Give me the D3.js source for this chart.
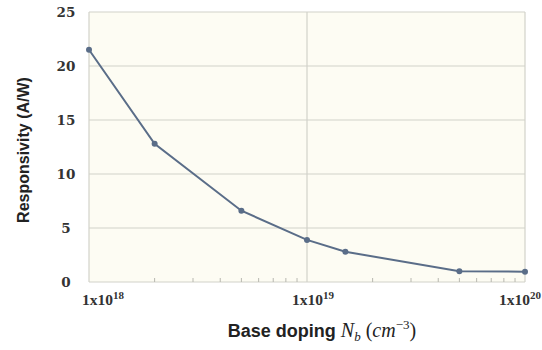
<!DOCTYPE html>
<html>
<head>
<meta charset="utf-8">
<script src="https://cdn.jsdelivr.net/npm/d3@7"></script>
<style>
  body { margin: 0; background: #ffffff; }
  svg { display: block; }
</style>
</head>
<body>
<div id="chart"></div>
<script>
// data
var doping = [1e18, 2e18, 5e18, 1e19, 1.5e19, 5e19, 1e20];
var responsivity = [21.5, 12.8, 6.6, 3.9, 2.8, 1.0, 0.95];
var yTicks = [0, 5, 10, 15, 20, 25];
var xTicks = [1e18, 1e19, 1e20];
var xTickExp = ["18", "19", "20"];

var width = 542, height = 350;
var margin = { top: 12, right: 17, bottom: 68, left: 89 };
var w = width - margin.left - margin.right,
    h = height - margin.top - margin.bottom;

var svg = d3.select("#chart").append("svg")
  .attr("width", width)
  .attr("height", height);

var g = svg.append("g")
  .attr("transform", "translate(" + margin.left + "," + margin.top + ")");

var x = d3.scaleLog().domain([1e18, 1e20]).range([0, w]);
var y = d3.scaleLinear().domain([0, 25]).range([h, 0]);

// plot background
g.append("rect")
  .attr("width", w).attr("height", h)
  .attr("fill", "#fdfcf3");

// horizontal grid
g.selectAll(".hgrid")
  .data(yTicks)
  .enter().append("line")
  .attr("x1", 0).attr("x2", w)
  .attr("y1", function (d) { return y(d); })
  .attr("y2", function (d) { return y(d); })
  .attr("stroke", "#d2d2ca")
  .attr("stroke-width", 1.2);

// vertical grid at decades
g.selectAll(".vgrid")
  .data(xTicks)
  .enter().append("line")
  .attr("x1", function (d) { return x(d); })
  .attr("x2", function (d) { return x(d); })
  .attr("y1", 0).attr("y2", h)
  .attr("stroke", "#d2d2ca")
  .attr("stroke-width", 1.2);

// minor ticks on the bottom axis
var minor = [];
[1e18, 1e19].forEach(function (dec) {
  for (var k = 2; k <= 9; k++) minor.push(dec * k);
});
g.selectAll(".minor")
  .data(minor)
  .enter().append("line")
  .attr("x1", function (d) { return x(d); })
  .attr("x2", function (d) { return x(d); })
  .attr("y1", h).attr("y2", h - 4)
  .attr("stroke", "#b8b8b0")
  .attr("stroke-width", 1);

// y tick labels
g.selectAll(".ylab")
  .data(yTicks)
  .enter().append("text")
  .attr("x", -23)
  .attr("y", function (d) { return y(d) + 5; })
  .attr("text-anchor", "middle")
  .attr("font-family", "'DejaVu Serif', serif")
  .attr("font-weight", "bold")
  .attr("font-size", "13.5px")
  .attr("fill", "#333")
  .text(function (d) { return d; });

// x tick labels as 1x10^n
var anchors = ["start", "middle", "end"];
var dxs = [-7, 6, 16];
var xl = g.selectAll(".xlab")
  .data(xTicks)
  .enter().append("text")
  .attr("x", function (d, i) { return x(d) + dxs[i]; })
  .attr("y", h + 23)
  .attr("text-anchor", function (d, i) { return anchors[i]; })
  .attr("font-family", "'Liberation Serif', serif")
  .attr("font-weight", "bold")
  .attr("font-size", "15.5px")
  .attr("fill", "#333");
xl.append("tspan").text("1x10");
xl.append("tspan")
  .attr("dy", -6)
  .attr("font-size", "11px")
  .text(function (d, i) { return xTickExp[i]; });

// line and markers
var line = d3.line()
  .x(function (d, i) { return x(doping[i]); })
  .y(function (d) { return y(d); });

g.append("path")
  .datum(responsivity)
  .attr("fill", "none")
  .attr("stroke", "#5a6d88")
  .attr("stroke-width", 2)
  .attr("d", line);

g.selectAll(".pt")
  .data(responsivity)
  .enter().append("circle")
  .attr("cx", function (d, i) { return x(doping[i]); })
  .attr("cy", function (d) { return y(d); })
  .attr("r", 3)
  .attr("fill", "#5a6d88");

// axis titles
svg.append("text")
  .attr("transform", "translate(29," + (margin.top + h / 2 + 3) + ") rotate(-90)")
  .attr("text-anchor", "middle")
  .attr("font-family", "'Liberation Sans', Arial, sans-serif")
  .attr("font-weight", "bold")
  .attr("font-size", "16px")
  .attr("fill", "#222")
  .text("Responsivity (A/W)");

var xt = svg.append("text")
  .attr("x", margin.left + w / 2 + 15)
  .attr("y", 337)
  .attr("text-anchor", "middle")
  .attr("font-family", "'Liberation Sans', Arial, sans-serif")
  .attr("font-weight", "bold")
  .attr("font-size", "18px")
  .attr("fill", "#222");
xt.append("tspan").text("Base doping ");
xt.append("tspan")
  .attr("font-family", "'Liberation Serif', serif")
  .attr("font-style", "italic")
  .attr("font-weight", "normal")
  .attr("font-size", "20px")
  .text("N");
xt.append("tspan")
  .attr("font-family", "'Liberation Serif', serif")
  .attr("font-style", "italic")
  .attr("font-weight", "normal")
  .attr("font-size", "13px")
  .attr("dy", 4)
  .text("b");
xt.append("tspan")
  .attr("font-family", "'Liberation Serif', serif")
  .attr("font-weight", "normal")
  .attr("font-size", "20px")
  .attr("dy", -4)
  .text(" (");
xt.append("tspan")
  .attr("font-family", "'Liberation Serif', serif")
  .attr("font-style", "italic")
  .attr("font-weight", "normal")
  .attr("font-size", "20px")
  .text("cm");
xt.append("tspan")
  .attr("font-family", "'Liberation Serif', serif")
  .attr("font-weight", "normal")
  .attr("font-size", "13px")
  .attr("dy", -8)
  .text("\u22123");
xt.append("tspan")
  .attr("font-family", "'Liberation Serif', serif")
  .attr("font-weight", "normal")
  .attr("font-size", "20px")
  .attr("dy", 8)
  .text(")");
</script>
</body>
</html>
